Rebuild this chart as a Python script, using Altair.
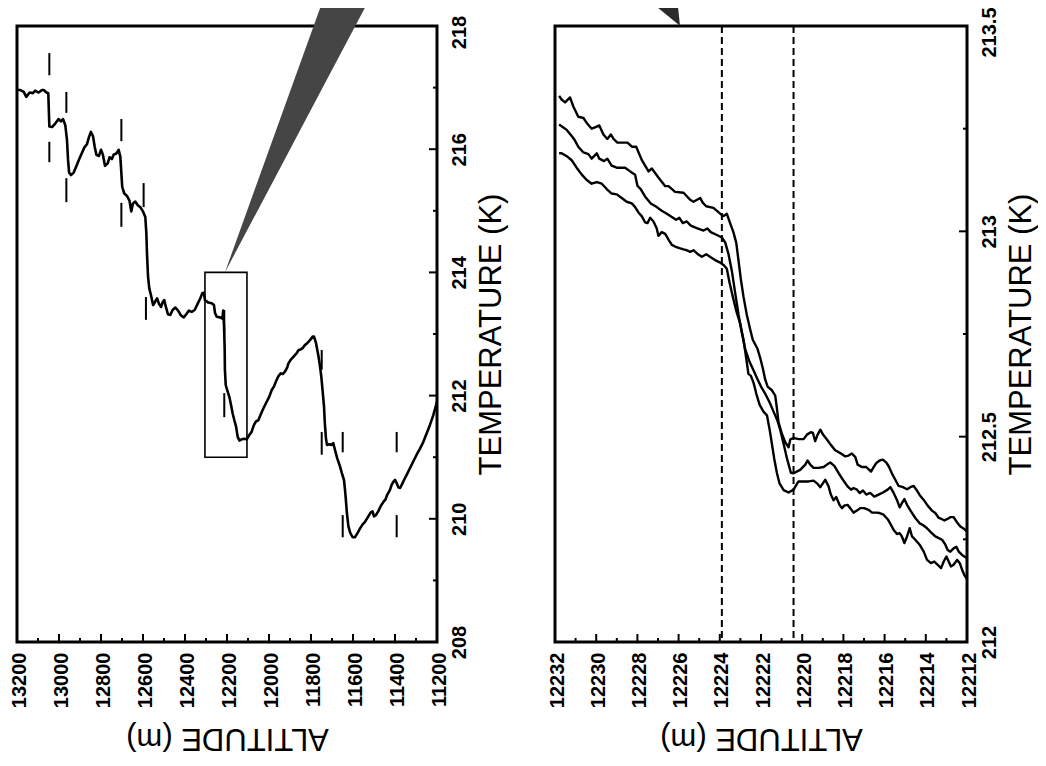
import altair as alt
import pandas as pd

# ---------------- Left panel (overview profile) ----------------
L_ALT = [13198, 13184, 13168, 13156, 13140, 13124, 13113, 13097, 13081, 13073, 13060, 13051, 13046, 13033, 13017,
         13002, 12991, 12981, 12970, 12962, 12957, 12952, 12943, 12930, 12918, 12905, 12891, 12879, 12867, 12857,
         12848, 12838, 12830, 12822, 12810, 12800, 12791, 12781, 12768, 12759, 12748, 12740, 12727, 12716, 12708,
         12703, 12699, 12689, 12676, 12664, 12656, 12648, 12637, 12625, 12613, 12600, 12589, 12584, 12581, 12576,
         12570, 12562, 12552, 12543, 12533, 12524, 12514, 12506, 12499, 12491, 12481, 12470, 12459, 12446, 12433,
         12419, 12406, 12394, 12381, 12368, 12354, 12340, 12327, 12318, 12310, 12305, 12289, 12273, 12262, 12257,
         12249, 12233, 12222, 12218, 12214, 12211, 12210, 12206, 12199, 12189, 12181, 12173, 12165, 12157, 12149,
         12141, 12130, 12118, 12106, 12094, 12083, 12072, 12062, 12051, 12040, 12027, 12011, 11999, 11987, 11976,
         11967, 11956, 11945, 11935, 11924, 11913, 11908, 11897, 11884, 11868, 11859, 11849, 11840, 11829, 11818,
         11805, 11792, 11786, 11776, 11770, 11764, 11757, 11751, 11745, 11738, 11734, 11729, 11724, 11713, 11702,
         11694, 11686, 11675, 11662, 11653, 11643, 11638, 11634, 11629, 11622, 11614, 11602, 11591, 11580, 11567,
         11554, 11543, 11527, 11516, 11507, 11500, 11491, 11480, 11469, 11456, 11446, 11437, 11424, 11416, 11408,
         11400, 11392, 11384, 11376, 11368, 11357, 11345, 11329, 11313, 11297, 11281, 11265, 11249, 11234, 11218,
         11200]
L_TEMP = [216.96, 216.96, 216.93, 216.85, 216.92, 216.91, 216.95, 216.92, 216.96, 216.96, 216.92, 216.91, 216.37,
          216.36, 216.42, 216.49, 216.45, 216.49, 216.39, 216.15, 215.83, 215.62, 215.58, 215.62, 215.72, 215.83,
          215.94, 216.03, 216.08, 216.20, 216.28, 216.21, 216.04, 215.91, 215.89, 215.99, 215.91, 215.73, 215.77,
          215.87, 215.84, 215.91, 215.93, 215.99, 215.88, 215.61, 215.39, 215.28, 215.24, 215.16, 214.99, 215.12,
          215.15, 215.09, 215.06, 214.99, 214.90, 214.63, 214.31, 213.93, 213.74, 213.63, 213.47, 213.52, 213.58,
          213.49, 213.44, 213.52, 213.55, 213.44, 213.32, 213.31, 213.39, 213.43, 213.38, 213.30, 213.27, 213.32,
          213.38, 213.36, 213.39, 213.49, 213.58, 213.66, 213.67, 213.55, 213.51, 213.50, 213.47, 213.34, 213.28,
          213.27, 213.25, 213.38, 213.12, 212.74, 212.42, 212.17, 212.09, 211.98, 211.85, 211.71, 211.60, 211.50,
          211.33, 211.27, 211.29, 211.30, 211.29, 211.36, 211.41, 211.52, 211.58, 211.60, 211.69, 211.79, 211.90,
          211.98, 212.09, 212.15, 212.23, 212.31, 212.36, 212.35, 212.39, 212.46, 212.52, 212.58, 212.63, 212.69,
          212.74, 212.75, 212.77, 212.82, 212.85, 212.90, 212.96, 212.96, 212.85, 212.74, 212.63, 212.47, 212.31,
          212.09, 211.82, 211.55, 211.31, 211.20, 211.21, 211.20, 211.23, 211.12, 210.98, 210.85, 210.74, 210.63,
          210.47, 210.31, 210.09, 209.88, 209.78, 209.70, 209.70, 209.76, 209.84, 209.91, 209.95, 210.04, 210.10,
          210.12, 210.04, 210.06, 210.12, 210.20, 210.27, 210.31, 210.39, 210.47, 210.55, 210.60, 210.63, 210.58,
          210.51, 210.50, 210.55, 210.63, 210.71, 210.82, 210.93, 211.04, 211.14, 211.25, 211.39, 211.52, 211.68,
          211.90]

# short vertical layer markers (one above and one below the profile)
MARK_ALT = [13046, 13046, 12965, 12965, 12703, 12703, 12597, 12586, 12213, 12213, 11749, 11749, 11649, 11649,
            11392, 11392]
MARK_T_HI = [217.56, 216.12, 216.93, 215.53, 216.49, 215.13, 215.45, 213.60, 213.39, 212.04, 212.74, 211.41,
             211.41, 210.06, 211.41, 210.06]
MARK_T_LO = [217.20, 215.79, 216.59, 215.14, 216.13, 214.74, 215.06, 213.23, 212.98, 211.65, 212.42, 211.04,
             211.08, 209.70, 211.08, 209.70]

# zoom box and the wedge leading to the detail panel
BOX_ALT = [12305, 12105]
BOX_T = [211.0, 214.0]
WEDGE_L_ALT = [12210, 11743, 11524]
WEDGE_L_TOP = [214.0, 218.42, 218.42]
WEDGE_L_BOT = [214.0, 217.01, 218.42]

L_XLABELS = [13200, 13000, 12800, 12600, 12400, 12200, 12000, 11800, 11600, 11400, 11200]
L_XTICK_MAJOR = [13000, 12800, 12600, 12400, 12200, 12000, 11800, 11600, 11400]
L_XTICK_MINOR = [13100, 12900, 12700, 12500, 12300, 12100, 11900, 11700, 11500, 11300]
L_YLABELS = [208, 210, 212, 214, 216, 218]
L_YTICK_MAJOR = [210, 212, 214, 216]
L_YTICK_MINOR = [209, 211, 213, 215, 217]

# ---------------- Right panel (detail, three profiles) ----------------
R1_ALT = [12231.80, 12231.68, 12231.51, 12231.27, 12231.11, 12230.87, 12230.62, 12230.46, 12230.22, 12230.06,
          12229.85, 12229.65, 12229.46, 12229.29, 12229.16, 12228.97, 12228.48, 12228.27, 12228.06, 12227.79,
          12227.46, 12227.30, 12226.98, 12226.65, 12226.49, 12226.17, 12225.76, 12225.44, 12225.28, 12224.95,
          12224.83, 12224.66, 12224.31, 12223.98, 12223.82, 12223.66, 12223.50, 12223.34, 12223.20, 12223.09,
          12222.98, 12222.85, 12222.69, 12222.53, 12222.40, 12222.17, 12222.04, 12221.91, 12221.80, 12221.68,
          12221.47, 12221.31, 12221.23, 12221.15, 12220.99, 12220.83, 12220.66, 12220.58, 12220.42, 12220.18,
          12219.93, 12219.77, 12219.58, 12219.48, 12219.37, 12219.25, 12219.12, 12218.99, 12218.80, 12218.61,
          12218.40, 12218.15, 12217.91, 12217.75, 12217.59, 12217.42, 12217.31, 12217.10, 12216.89, 12216.78,
          12216.66, 12216.53, 12216.40, 12216.24, 12216.08, 12215.92, 12215.80, 12215.64, 12215.48, 12215.32,
          12215.11, 12214.91, 12214.75, 12214.59, 12214.46, 12214.30, 12214.10, 12213.91, 12213.70, 12213.54,
          12213.37, 12213.21, 12213.10, 12212.97, 12212.81, 12212.65, 12212.48, 12212.32, 12212.13, 12212.00]
R1_TEMP = [213.330, 213.321, 213.314, 213.326, 213.304, 213.279, 213.276, 213.264, 213.250, 213.253, 213.258,
           213.236, 213.225, 213.236, 213.225, 213.216, 213.216, 213.206, 213.206, 213.174, 213.146, 213.153,
           213.131, 213.110, 213.110, 213.096, 213.094, 213.077, 213.072, 213.081, 213.070, 213.061, 213.057,
           213.043, 213.037, 213.043, 213.020, 212.998, 212.972, 212.928, 212.884, 212.841, 212.797, 212.762,
           212.736, 212.714, 212.692, 212.666, 212.640, 212.622, 212.613, 212.600, 212.570, 212.535, 212.508,
           212.487, 212.474, 212.493, 212.497, 212.494, 212.494, 212.505, 212.511, 212.509, 212.489, 212.505,
           212.517, 212.505, 212.493, 212.480, 212.467, 212.460, 212.452, 212.454, 212.459, 212.450, 212.432,
           212.426, 212.426, 212.421, 212.415, 212.426, 212.436, 212.442, 212.444, 212.437, 212.428, 212.410,
           212.395, 212.380, 212.377, 212.372, 212.377, 212.380, 212.371, 212.358, 212.346, 212.332, 212.320,
           212.314, 212.302, 212.299, 212.296, 212.299, 212.304, 212.304, 212.291, 212.281, 212.275, 212.269]

R2_ALT = [12231.80, 12231.68, 12231.43, 12231.19, 12231.03, 12230.87, 12230.62, 12230.38, 12230.22, 12229.97,
          12229.85, 12229.62, 12229.46, 12229.25, 12229.00, 12228.60, 12228.35, 12228.11, 12228.00, 12227.84,
          12227.63, 12227.35, 12227.06, 12226.82, 12226.57, 12226.33, 12226.12, 12225.96, 12225.80, 12225.60,
          12225.41, 12225.12, 12224.79, 12224.60, 12224.44, 12224.14, 12223.90, 12223.74, 12223.58, 12223.41,
          12223.25, 12223.09, 12222.93, 12222.77, 12222.56, 12222.36, 12222.17, 12222.00, 12221.80, 12221.58,
          12221.39, 12221.20, 12221.07, 12220.90, 12220.74, 12220.55, 12220.42, 12220.10, 12219.85, 12219.74,
          12219.61, 12219.45, 12219.21, 12218.96, 12218.80, 12218.64, 12218.44, 12218.23, 12218.02, 12217.80,
          12217.63, 12217.51, 12217.34, 12217.21, 12217.05, 12216.89, 12216.70, 12216.50, 12216.29, 12216.08,
          12215.85, 12215.72, 12215.56, 12215.40, 12215.27, 12215.16, 12215.04, 12214.91, 12214.72, 12214.51,
          12214.30, 12214.14, 12213.94, 12213.75, 12213.54, 12213.37, 12213.21, 12213.05, 12212.94, 12212.81,
          12212.65, 12212.52, 12212.40, 12212.24, 12212.00]
R2_TEMP = [213.260, 213.256, 213.247, 213.232, 213.221, 213.206, 213.192, 213.188, 213.177, 213.190, 213.177,
           213.171, 213.177, 213.160, 213.155, 213.155, 213.146, 213.138, 213.111, 213.103, 213.085, 213.068,
           213.059, 213.050, 213.043, 213.035, 213.028, 213.033, 213.020, 213.024, 213.014, 213.008, 213.002,
           213.007, 212.998, 212.991, 212.985, 212.973, 212.945, 212.902, 212.849, 212.797, 212.753, 212.714,
           212.683, 212.661, 212.640, 212.622, 212.605, 212.583, 212.561, 212.539, 212.517, 212.482, 212.447,
           212.412, 212.411, 212.419, 212.432, 212.442, 212.432, 212.424, 212.424, 212.426, 212.432, 212.437,
           212.429, 212.411, 212.395, 212.379, 212.371, 212.375, 212.371, 212.363, 212.369, 212.359, 212.363,
           212.354, 212.359, 212.364, 212.371, 212.377, 212.363, 212.346, 212.328, 212.338, 212.348, 212.334,
           212.318, 212.302, 212.289, 212.285, 212.277, 212.267, 212.257, 212.253, 212.249, 212.237, 212.224,
           212.220, 212.228, 212.232, 212.220, 212.212, 212.204]

R3_ALT = [12231.80, 12231.68, 12231.43, 12231.19, 12230.95, 12230.70, 12230.46, 12230.22, 12229.97, 12229.73,
          12229.49, 12229.25, 12229.00, 12228.76, 12228.52, 12228.27, 12228.11, 12227.95, 12227.79, 12227.63,
          12227.51, 12227.38, 12227.22, 12227.06, 12226.98, 12226.82, 12226.65, 12226.49, 12226.33, 12226.17,
          12225.96, 12225.76, 12225.60, 12225.44, 12225.28, 12225.08, 12224.87, 12224.66, 12224.44, 12224.23,
          12223.98, 12223.79, 12223.66, 12223.53, 12223.37, 12223.20, 12223.01, 12222.85, 12222.72, 12222.61,
          12222.49, 12222.36, 12222.23, 12222.07, 12221.88, 12221.71, 12221.58, 12221.47, 12221.36, 12221.23,
          12221.10, 12220.90, 12220.66, 12220.50, 12220.42, 12220.18, 12219.93, 12219.69, 12219.45, 12219.25,
          12219.12, 12218.99, 12218.88, 12218.72, 12218.61, 12218.48, 12218.35, 12218.19, 12218.07, 12217.96,
          12217.80, 12217.67, 12217.51, 12217.34, 12217.18, 12216.99, 12216.78, 12216.61, 12216.40, 12216.24,
          12216.05, 12215.85, 12215.69, 12215.56, 12215.40, 12215.27, 12215.16, 12215.04, 12214.91, 12214.78,
          12214.67, 12214.51, 12214.30, 12214.10, 12213.94, 12213.75, 12213.59, 12213.42, 12213.26, 12213.13,
          12213.00, 12212.89, 12212.78, 12212.65, 12212.48, 12212.35, 12212.24, 12212.13, 12212.00]
R3_TEMP = [213.190, 213.190, 213.183, 213.173, 213.155, 213.138, 213.125, 213.116, 213.120, 213.116, 213.103,
           213.092, 213.090, 213.081, 213.072, 213.068, 213.059, 213.046, 213.037, 213.022, 213.020, 213.033,
           213.024, 213.007, 212.989, 212.998, 212.994, 212.980, 212.967, 212.963, 212.959, 212.956, 212.954,
           212.950, 212.954, 212.945, 212.938, 212.944, 212.937, 212.930, 212.924, 212.917, 212.909, 212.876,
           212.841, 212.806, 212.775, 212.736, 212.692, 212.653, 212.648, 212.631, 212.605, 212.578, 212.561,
           212.552, 212.517, 212.482, 212.447, 212.412, 212.386, 212.370, 212.364, 212.369, 212.371, 212.391,
           212.391, 212.391, 212.393, 212.385, 212.377, 212.387, 212.395, 212.379, 212.359, 212.345, 212.353,
           212.334, 212.326, 212.332, 212.334, 212.326, 212.315, 212.320, 212.326, 212.326, 212.322, 212.315,
           212.315, 212.314, 212.310, 212.299, 212.285, 212.273, 212.263, 212.265, 212.257, 212.241, 212.257,
           212.277, 212.257, 212.249, 212.237, 212.220, 212.200, 212.192, 212.196, 212.188, 212.180, 212.196,
           212.208, 212.196, 212.184, 212.188, 212.200, 212.192, 212.176, 212.163, 212.153]

DASH_ALT = [12223.9, 12220.42]
WEDGE_R_ALT = [12227.53, 12226.07, 12225.93]
WEDGE_R_TOP = [213.566, 213.566, 213.5]
WEDGE_R_BOT = [213.566, 213.506, 213.5]

R_XLABELS = [12232, 12230, 12228, 12226, 12224, 12222, 12220, 12218, 12216, 12214, 12212]
R_XTICK_MAJOR = [12230, 12228, 12226, 12224, 12222, 12220, 12218, 12216, 12214]
R_XTICK_MINOR = [12231, 12229, 12227, 12225, 12223, 12221, 12219, 12217, 12215, 12213]
R_YLABELS = [212, 212.5, 213, 213.5]
R_YTICK_MAJOR = [212.5, 213]
R_YTICK_MINOR = [212.25, 212.75, 213.25]

# ---------------- layout constants ----------------
H = 616
W1 = 420
W2 = 412
FONT = "Liberation Sans"
LBL = 20
TTL = 31
MAJ = 8
MIN = 4


def x_enc(domain, labels, fmt):
    return alt.X("alt:Q",
                 scale=alt.Scale(domain=domain, reverse=True, nice=False, zero=False),
                 axis=alt.Axis(values=labels, format=fmt, labelAngle=270, labelAlign="right",
                               labelBaseline="middle", labelPadding=10, labelOffset=2, ticks=False,
                               domain=False, grid=False, labelFlush=False, labelOverlap=False,
                               title="ALTITUDE (m)", titleAngle=180, titleBaseline="bottom",
                               titlePadding=14))


def y_enc(domain, labels, fmt, top_label):
    return alt.Y("t:Q",
                 scale=alt.Scale(domain=domain, nice=False, zero=False),
                 axis=alt.Axis(orient="right", values=labels, format=fmt, labelAngle=270,
                               labelAlign="center", labelBaseline="top", labelPadding=12,
                               labelOffset={"condition": {"test": "datum.value == %s" % top_label,
                                                          "value": 6}, "value": 0},
                               ticks=False, domain=False, grid=False, labelFlush=False,
                               labelOverlap=False, title="TEMPERATURE (K)", titleAngle=270,
                               titleBaseline="top", titlePadding=7))


def panel(w, xdom, ydom, xl, yl, xfmt, yfmt, top_label, lines, extra, xmaj, xmin, ymaj, ymin):
    X = x_enc(xdom, xl, xfmt)
    Y = y_enc(ydom, yl, yfmt, top_label)
    layers = list(extra(X, Y))
    for a, t, sw in lines:
        df = pd.DataFrame({"alt": a, "t": t, "i": range(len(a))})
        layers.append(alt.Chart(df).mark_line(color="black", strokeWidth=sw, strokeJoin="round")
                      .encode(x=X, y=Y, order="i:Q"))
    for vals, ln in ((xmaj, MAJ), (xmin, MIN)):
        layers.append(alt.Chart(pd.DataFrame({"alt": vals})).mark_rule(color="black", strokeWidth=2)
                      .encode(x=X, y=alt.value(H), y2=alt.value(H - ln)))
    for vals, ln in ((ymaj, MAJ), (ymin, MIN)):
        layers.append(alt.Chart(pd.DataFrame({"t": vals})).mark_rule(color="black", strokeWidth=2)
                      .encode(y=Y, x=alt.value(w), x2=alt.value(w - ln)))
    return alt.layer(*layers).properties(width=w, height=H)


def left_extra(X, Y):
    wedge = pd.DataFrame({"alt": WEDGE_L_ALT, "t": WEDGE_L_TOP, "t2": WEDGE_L_BOT})
    marks = pd.DataFrame({"alt": MARK_ALT, "t": MARK_T_HI, "t2": MARK_T_LO})
    box = pd.DataFrame({"alt": [BOX_ALT[0]], "alt2": [BOX_ALT[1]], "t": [BOX_T[0]], "t2": [BOX_T[1]]})
    return [
        alt.Chart(wedge).mark_area(color="#454545", clip=False).encode(x=X, y=Y, y2="t2:Q"),
        alt.Chart(box).mark_rect(fillOpacity=0, stroke="black", strokeWidth=1.6)
        .encode(x=X, x2="alt2:Q", y=Y, y2="t2:Q"),
        alt.Chart(marks).mark_rule(color="black", strokeWidth=2).encode(x=X, y=Y, y2="t2:Q"),
    ]


def right_extra(X, Y):
    wedge = pd.DataFrame({"alt": WEDGE_R_ALT, "t": WEDGE_R_TOP, "t2": WEDGE_R_BOT})
    dash = pd.DataFrame({"alt": DASH_ALT})
    return [
        alt.Chart(wedge).mark_area(color="#2a2a2a", clip=False).encode(x=X, y=Y, y2="t2:Q"),
        alt.Chart(dash).mark_rule(color="black", strokeWidth=2, strokeDash=[7, 4]).encode(x=X),
    ]


left = panel(W1, [11200, 13200], [208, 218], L_XLABELS, L_YLABELS, "d", "d", 218,
             [(L_ALT, L_TEMP, 2.6)], left_extra,
             L_XTICK_MAJOR, L_XTICK_MINOR, L_YTICK_MAJOR, L_YTICK_MINOR)
right = panel(W2, [12212, 12232], [212, 213.5], R_XLABELS, R_YLABELS, "d", ".1~f", 213.5,
              [(R1_ALT, R1_TEMP, 2.4), (R2_ALT, R2_TEMP, 2.4), (R3_ALT, R3_TEMP, 2.4)], right_extra,
              R_XTICK_MAJOR, R_XTICK_MINOR, R_YTICK_MAJOR, R_YTICK_MINOR)

chart = alt.hconcat(left, right, spacing=37).properties(
    autosize=alt.AutoSizeParams(type="none"),
    padding={"left": 9, "top": 18, "right": 1021, "bottom": 732},
    background="white",
).configure_view(stroke="black", strokeWidth=3).configure_axis(
    labelFont=FONT, titleFont=FONT, labelFontSize=LBL, labelFontWeight="bold",
    titleFontSize=TTL, titleFontWeight="normal", labelColor="black", titleColor="black",
)

chart.save("out.html", embed_options={"renderer": "svg", "actions": False})
